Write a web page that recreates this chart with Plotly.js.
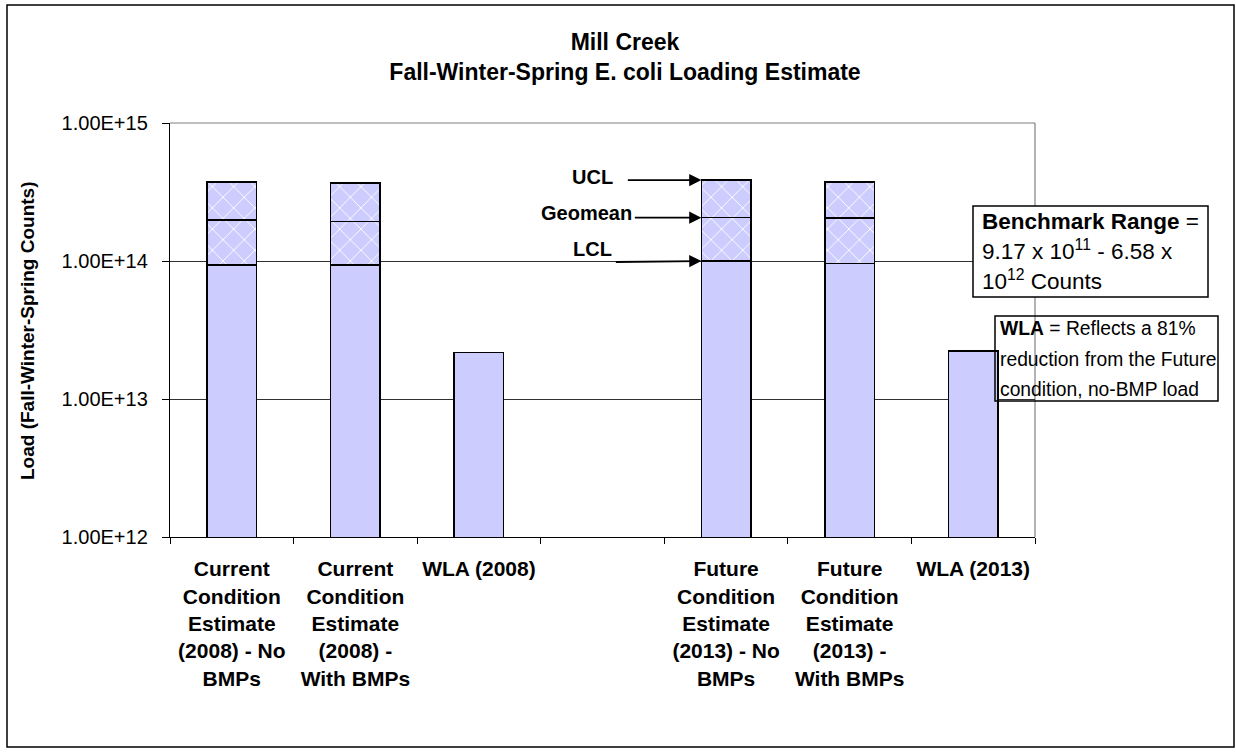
<!DOCTYPE html>
<html>
<head>
<meta charset="utf-8">
<script src="https://cdn.plot.ly/plotly-3.0.1.min.js"></script>
<style>
  html, body { margin: 0; padding: 0; background: #fff; }
  #chart { width: 1236px; height: 752px; }
</style>
</head>
<body>
<div id="chart"></div>
<script>
// ---- Data ----
const categories = [
  "Current<br>Condition<br>Estimate<br>(2008) - No<br>BMPs",
  "Current<br>Condition<br>Estimate<br>(2008) -<br>With BMPs",
  "WLA (2008)",
  " ",
  "Future<br>Condition<br>Estimate<br>(2013) - No<br>BMPs",
  "Future<br>Condition<br>Estimate<br>(2013) -<br>With BMPs",
  "WLA (2013)"
];
// LCL (or the single WLA load), geometric mean and UCL loads (counts)
const lcl     = [9.4e13, 9.35e13, 2.17e13, null, 1.0e14, 9.6e13, 2.22e13];
const geomean = [1.98e14, 1.93e14, null, null, 2.06e14, 2.05e14, null];
const ucl     = [3.73e14, 3.66e14, null, null, 3.86e14, 3.73e14, null];

const yTickVals = [1e12, 1e13, 1e14, 1e15];
const yTickText = ["1.00E+12", "1.00E+13", "1.00E+14", "1.00E+15"];

const titleText = "Mill Creek<br>Fall-Winter-Spring E. coli Loading Estimate";
const yTitle = "Load (Fall-Winter-Spring Counts)";

// ---- Derived stack segments ----
const seg2 = geomean.map((g, i) => (g == null || lcl[i] == null) ? null : g - lcl[i]);
const seg3 = ucl.map((u, i) => (u == null || geomean[i] == null) ? null : u - geomean[i]);

const FONT = "Liberation Sans, Arial, sans-serif";
const BAR = "#ccccff";
const line = { color: "#000", width: 1.6 };
const hatch = { shape: "x", fillmode: "replace", bgcolor: BAR, fgcolor: "#ffffff", size: 15, solidity: 0.12 };

const traces = [
  { type: "bar", name: "LCL", x: categories, y: lcl,
    marker: { color: BAR, line: line }, hoverinfo: "y" },
  { type: "bar", name: "Geomean", x: categories, y: seg2,
    marker: { color: BAR, line: line, pattern: hatch }, hoverinfo: "skip" },
  { type: "bar", name: "UCL", x: categories, y: seg3,
    marker: { color: BAR, line: line, pattern: hatch }, hoverinfo: "skip" }
];

// plot area geometry (pixels) for paper-coordinate conversions
const L = 170, R = 1035, T = 123, B = 537;
const px = x => (x - L) / (R - L);
const py = y => (B - y) / (B - T);

const futureIdx = 4;
const barLeft = futureIdx - 0.2;

function txt(x, y, text, size, xanchor, yanchor, extra) {
  return Object.assign({ xref: "paper", yref: "paper", x: px(x), y: py(y), text: text,
    showarrow: false, xanchor: xanchor, yanchor: yanchor,
    font: { family: FONT, size: size, color: "#000" } }, extra || {});
}
function arrow(val, ax, ay) {
  return { x: barLeft, y: Math.log10(val), xref: "x", yref: "y", text: "", showarrow: true,
    ax: ax, ay: ay, arrowhead: 2, arrowsize: 1.35, arrowwidth: 1.8, arrowcolor: "#000" };
}

const annotations = [
  // y-axis title
  txt(27, 331, "<b>" + yTitle + "</b>", 19, "center", "middle", { textangle: -90 }),
  // labels
  txt(592, 177, "<b>UCL</b>", 20, "center", "middle"),
  txt(586, 213, "<b>Geomean</b>", 20, "center", "middle"),
  txt(592, 249, "<b>LCL</b>", 20, "center", "middle"),
  // arrows pointing to the Future no-BMP bar
  arrow(ucl[futureIdx], -75, 0),
  arrow(geomean[futureIdx], -68, 0),
  arrow(lcl[futureIdx], -87, 1),
  // Benchmark box text (anchored on the bottom so superscripts do not shift lines)
  txt(980, 236, "<b>Benchmark Range</b> =", 22.5, "left", "bottom"),
  txt(980, 266, "9.17 x 10<sup>11</sup> - 6.58 x", 22.5, "left", "bottom"),
  txt(980, 296, "10<sup>12</sup> Counts", 22.5, "left", "bottom"),
  // WLA box text
  txt(998, 328, "<b>WLA</b> = Reflects a 81%", 19.3, "left", "middle"),
  txt(998, 359, "reduction from the Future", 19.3, "left", "middle"),
  txt(998, 389, "condition, no-BMP load", 19.3, "left", "middle")
];

const shapes = [
  // outer chart border
  { type: "rect", xref: "paper", yref: "paper", x0: px(7), x1: px(1234), y0: py(747), y1: py(5),
    line: { color: "#000", width: 1.5 }, fillcolor: "rgba(0,0,0,0)", layer: "above" },
  // plot area top and right border
  { type: "line", xref: "paper", yref: "paper", x0: 0, x1: 1, y0: 1, y1: 1,
    line: { color: "#808080", width: 1.2 }, layer: "below" },
  { type: "line", xref: "paper", yref: "paper", x0: 1, x1: 1, y0: 0, y1: 1,
    line: { color: "#808080", width: 1.2 }, layer: "below" },
  // Benchmark box (white filled)
  { type: "rect", xref: "paper", yref: "paper", x0: px(973), x1: px(1208), y0: py(297), y1: py(206),
    line: { color: "#000", width: 1.5 }, fillcolor: "#ffffff", layer: "above" },
  // WLA box (no fill)
  { type: "rect", xref: "paper", yref: "paper", x0: px(995), x1: px(1218), y0: py(401), y1: py(316),
    line: { color: "#000", width: 1.5 }, fillcolor: "rgba(0,0,0,0)", layer: "above" }
];

const layout = {
  width: 1236, height: 752,
  margin: { l: L, r: 1236 - R, t: T, b: 752 - B, pad: 0 },
  paper_bgcolor: "#fff", plot_bgcolor: "#fff",
  font: { family: FONT, color: "#000" },
  barmode: "stack", bargap: 0.6, showlegend: false,
  title: { text: "<b>" + titleText + "</b>", x: 625 / 1236, xanchor: "center",
    y: 1 - 50 / 752, yanchor: "middle", yref: "container",
    font: { family: FONT, size: 23, color: "#000" } },
  xaxis: {
    type: "category", categoryorder: "array", categoryarray: categories,
    tickson: "boundaries", ticks: "outside", ticklen: 6, tickcolor: "#000", tickwidth: 1,
    showline: true, linecolor: "#000", linewidth: 1.2, showgrid: false, zeroline: false,
    tickfont: { family: FONT, size: 21, color: "#000", weight: "bold" },
    ticklabelstandoff: 13, fixedrange: true
  },
  yaxis: {
    type: "log", range: [12, 15], tickvals: yTickVals, ticktext: yTickText,
    ticks: "outside", ticklen: 7, tickcolor: "#000", tickwidth: 1,
    showline: true, linecolor: "#000", linewidth: 1.2,
    showgrid: true, gridcolor: "#303030", gridwidth: 1, zeroline: false,
    tickfont: { family: FONT, size: 20, color: "#000" },
    ticklabelstandoff: 10, fixedrange: true
  },
  annotations: annotations,
  shapes: shapes
};

Plotly.newPlot("chart", traces, layout, { displayModeBar: false, staticPlot: true });
</script>
</body>
</html>
